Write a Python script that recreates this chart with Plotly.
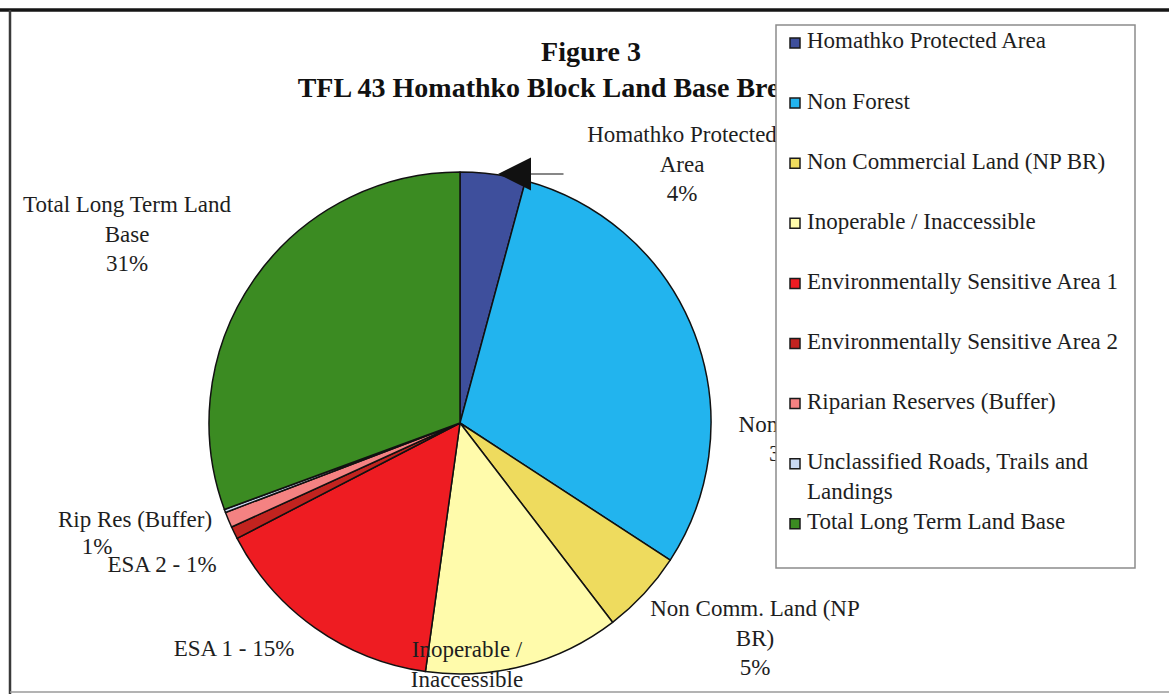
import plotly.graph_objects as go

# Land base breakdown, TFL 43 Homathko Block (percent of gross area)
categories = [
    "Homathko Protected Area",
    "Non Forest",
    "Non Commercial Land (NP BR)",
    "Inoperable / Inaccessible",
    "Environmentally Sensitive Area 1",
    "Environmentally Sensitive Area 2",
    "Riparian Reserves (Buffer)",
    "Unclassified Roads, Trails and Landings",
    "Total Long Term Land Base",
]
shares = [4.2, 30.0, 5.4, 12.6, 15.2, 0.8, 1.0, 0.2, 30.6]
colors = ["#3e4f9c", "#22b4ee", "#eedb5e", "#fffbab", "#ee1c22",
          "#c2231f", "#f48282", "#c9d9f2", "#3b8b22"]

# Short names used for the labels beside the pie (None = no label)
short_names = [
    "Homathko Protected<br>Area",
    "Non Forest",
    "Non Comm. Land (NP<br>BR)",
    "Inoperable /<br>Inaccessible",
    "ESA 1",
    "ESA 2",
    "Rip Res (Buffer)",
    None,
    "Total Long Term Land<br>Base",
]
name_pct_sep = ["<br>", "<br>", "<br>", "<br>", " - ", " - ", "<br>", None, "<br>"]
legend_names = [
    "Homathko Protected Area",
    "Non Forest",
    "Non Commercial Land (NP BR)",
    "Inoperable / Inaccessible",
    "Environmentally Sensitive Area 1",
    "Environmentally Sensitive Area 2",
    "Riparian Reserves (Buffer)",
    "Unclassified Roads, Trails and<br>Landings",
    "Total Long Term Land Base",
]
title_lines = ["Figure 3", "TFL 43 Homathko Block Land Base Breakdown"]

W, H = 1169, 698
SERIF = "Liberation Serif, Times New Roman, serif"
TEXT = "#1e1e1e"
FS = 23


def px(x):
    return x / W


def py(y):
    return 1 - y / H


# pie geometry (pixels)
CX, CY, R = 460, 423, 251

fig = go.Figure()
fig.add_trace(go.Pie(
    labels=categories,
    values=shares,
    sort=False,
    direction="clockwise",
    rotation=0,
    marker=dict(colors=colors, line=dict(color="#111111", width=1.5)),
    textinfo="none",
    hoverinfo="label+percent",
    showlegend=False,
    domain=dict(x=[px(CX - R), px(CX + R)], y=[py(CY + R), py(CY - R)]),
))


def text_shape(x, y, text, size, color=TEXT):
    """Free text placed as a shape label so later shapes can sit on top of it."""
    d = 0.0005
    return dict(
        type="rect", xref="paper", yref="paper",
        x0=px(x) - d, x1=px(x) + d, y0=py(y) - d, y1=py(y) + d,
        line=dict(width=0), fillcolor="rgba(0,0,0,0)", layer="above",
        label=dict(text=text, textposition="middle center", padding=0,
                   font=dict(family=SERIF, size=size, color=color)),
    )


shapes = []

# outer frame
shapes.append(dict(type="line", xref="paper", yref="paper", x0=0, x1=1,
                   y0=py(10), y1=py(10), line=dict(color="#151515", width=3.5),
                   layer="above"))
shapes.append(dict(type="line", xref="paper", yref="paper", x0=px(10), x1=px(10),
                   y0=py(10), y1=py(694), line=dict(color="#3a3a3a", width=2.5),
                   layer="above"))
shapes.append(dict(type="line", xref="paper", yref="paper", x0=px(10), x1=1,
                   y0=py(692), y1=py(692), line=dict(color="#9a9a9a", width=1.5),
                   layer="above"))

# chart title (underneath the legend box)
shapes.append(text_shape(591, 48, "<b>%s</b>" % title_lines[0], 28, "#111111"))
shapes.append(text_shape(586, 84, "<b>%s</b>" % title_lines[1], 28, "#111111"))

# slice labels: centre position in pixels
label_pos = {
    0: (682, 161),
    1: (790, 436),
    2: (755, 635),
    3: (467, 676),
    4: (234, 645),
    5: (162, 561),
    6: (135, 516),
    8: (127, 231),
}
for i, name in enumerate(short_names):
    if name is None:
        continue
    pct = "%d%%" % round(shares[i] / sum(shares) * 100)
    x, y = label_pos[i]
    if i == 6:
        shapes.append(text_shape(x, y, name, FS))
        shapes.append(text_shape(97, 543, pct, FS))
    else:
        shapes.append(text_shape(x, y, name + name_pct_sep[i] + pct, FS))

# legend box (drawn over title and labels)
shapes.append(dict(type="rect", xref="paper", yref="paper",
                   x0=px(776), x1=px(1135), y0=py(568), y1=py(25),
                   fillcolor="white", line=dict(color="#8c8c8c", width=1.5),
                   layer="above"))

annotations = []
LEG_Y0, LEG_STEP = 42, 60.1
for i, (name, col) in enumerate(zip(legend_names, colors)):
    yc = LEG_Y0 + i * LEG_STEP
    shapes.append(dict(type="rect", xref="paper", yref="paper",
                       x0=px(790), x1=px(800), y0=py(yc + 6), y1=py(yc - 4),
                       fillcolor=col, line=dict(color="#1a1a1a", width=1.5),
                       layer="above"))
    annotations.append(dict(
        xref="paper", yref="paper", x=px(805), y=py(yc - 15.5),
        xanchor="left", yanchor="top", align="left", showarrow=False,
        text=name, font=dict(family=SERIF, size=FS, color=TEXT),
    ))

# pointer to the protected-area slice
annotations.append(dict(
    xref="paper", yref="paper", x=px(498), y=py(174), ax=67, ay=0,
    text="", showarrow=True, arrowhead=2, arrowsize=5.5, arrowwidth=1.2,
    arrowcolor="#111111", standoff=0,
))

fig.update_layout(
    width=W, height=H,
    margin=dict(l=0, r=0, t=0, b=0),
    paper_bgcolor="white", plot_bgcolor="white",
    shapes=shapes, annotations=annotations,
    showlegend=False,
)

fig.write_html("out.html", config={"displayModeBar": False})
